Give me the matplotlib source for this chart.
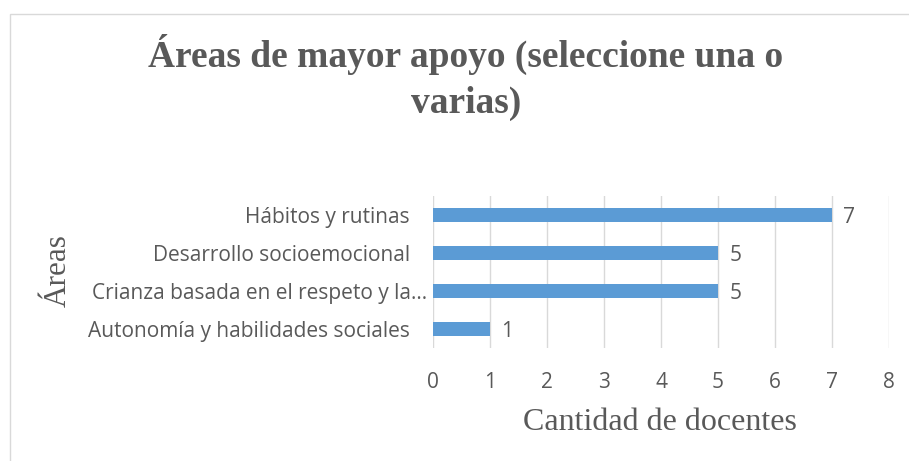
import matplotlib
matplotlib.use("Agg")
import matplotlib.pyplot as plt
from matplotlib.patches import Rectangle
from matplotlib.transforms import ScaledTranslation

categories = ["Autonomía y habilidades sociales",
              "Crianza basada en el respeto y la…",
              "Desarrollo socioemocional",
              "Hábitos y rutinas"]
values = [1, 5, 5, 7]
xticks = [0, 1, 2, 3, 4, 5, 6, 7, 8]

W, H = 909, 461
fig = plt.figure(figsize=(W/100, H/100), dpi=100)
ax = fig.add_axes([433/W, 1-348/H, (889-433)/W, (348-196)/H])

TXT = "#595959"
bars = ax.barh(range(len(categories)), values, height=0.36, color="#5B9BD5", zorder=3)
ax.set_xlim(0, 8)
ax.set_ylim(-0.5, len(categories)-0.5)
ax.set_xticks(xticks)
ax.set_yticks(range(len(categories)))
ax.set_yticklabels(categories)
ax.grid(axis="x", color="#d9d9d9", linewidth=1, zorder=0)
for s in ax.spines.values():
    s.set_visible(False)
ax.tick_params(length=0, labelsize=15, colors=TXT)
ax.tick_params(axis="y", pad=16.5)
ax.tick_params(axis="x", pad=17.5)
for lab in ax.get_xticklabels() + ax.get_yticklabels():
    lab.set_fontfamily("Open Sans")
# the truncated category sits closer to the axis (no trailing space)
lab = ax.get_yticklabels()[1]
lab.set_transform(lab.get_transform() + ScaledTranslation(17/100, 0, fig.dpi_scale_trans))

for b, v in zip(bars, values):
    ax.text(b.get_width() + 0.2, b.get_y() + b.get_height()/2 - 0.06, str(v),
            va="center", ha="left", fontsize=15, color=TXT, family="Open Sans")

fig.text(660/W, 1-422/H, "Cantidad de docentes", family="Liberation Serif", fontsize=23,
         color=TXT, ha="center", va="center")
fig.text(58/W, 1-271/H, "Áreas", rotation=90, family="Liberation Serif",
         fontsize=22.5, color=TXT, ha="center", va="center")

fig.text(466/W, 1-77/H, "Áreas de mayor apoyo (seleccione una o\nvarias)",
         ha="center", va="center", family="Liberation Serif", fontweight="bold",
         fontsize=27, color=TXT, linespacing=1.4)

fig.patches.append(Rectangle((10/W, -0.01), 1.0, 1-14/H + 0.01, transform=fig.transFigure,
                             fill=False, edgecolor="#d9d9d9", linewidth=1))

fig.savefig("out.png", dpi=100)
